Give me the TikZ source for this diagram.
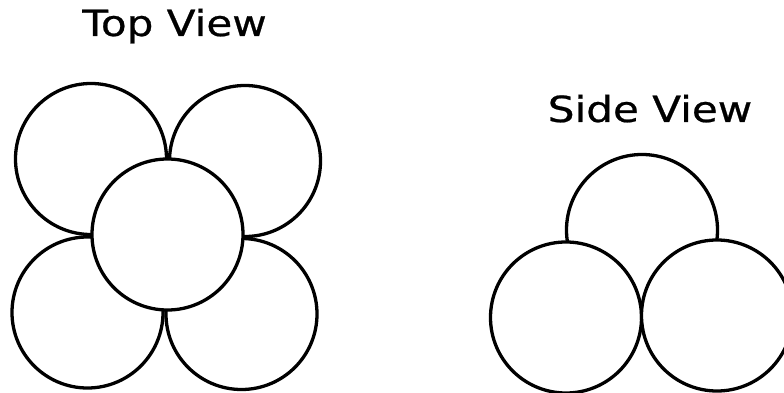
\documentclass[tikz,border=0pt]{standalone}
\usepackage{fontspec}
\setmainfont{DejaVu Sans}
\newfontfamily\titlefont{DejaVu Sans}[FakeBold=0.6]
\begin{document}
\begin{tikzpicture}[x=1pt,y=-1pt,
  ball/.style={circle,draw=black,fill=white,line width=3.3pt,inner sep=0pt,minimum size=151pt},
  title/.style={font=\titlefont\fontsize{36}{40}\selectfont,anchor=base,inner sep=0pt}]
\useasboundingbox (0,0) rectangle (784,393);
\clip (0,0) rectangle (784,393);
\fill[white] (0,0) rectangle (784,393);
% Top view
\node[title] (toptitle) at (174.5,36) {\scalebox{1.17}[1]{Top View}};
\node[ball] (tl) at (91,159) {};
\node[ball] (tr) at (245,161) {};
\node[ball] (bl) at (87.5,312.5) {};
\node[ball] (br) at (241.5,314) {};
\node[ball] (mid) at (167.5,234.5) {};
% Side view
\node[title] (sidetitle) at (650,122) {\scalebox{1.17}[1]{Side View}};
\node[ball] (top) at (642,230) {};
\node[ball] (left) at (566,317.5) {};
\node[ball] (right) at (717,315.5) {};
\end{tikzpicture}
\end{document}
